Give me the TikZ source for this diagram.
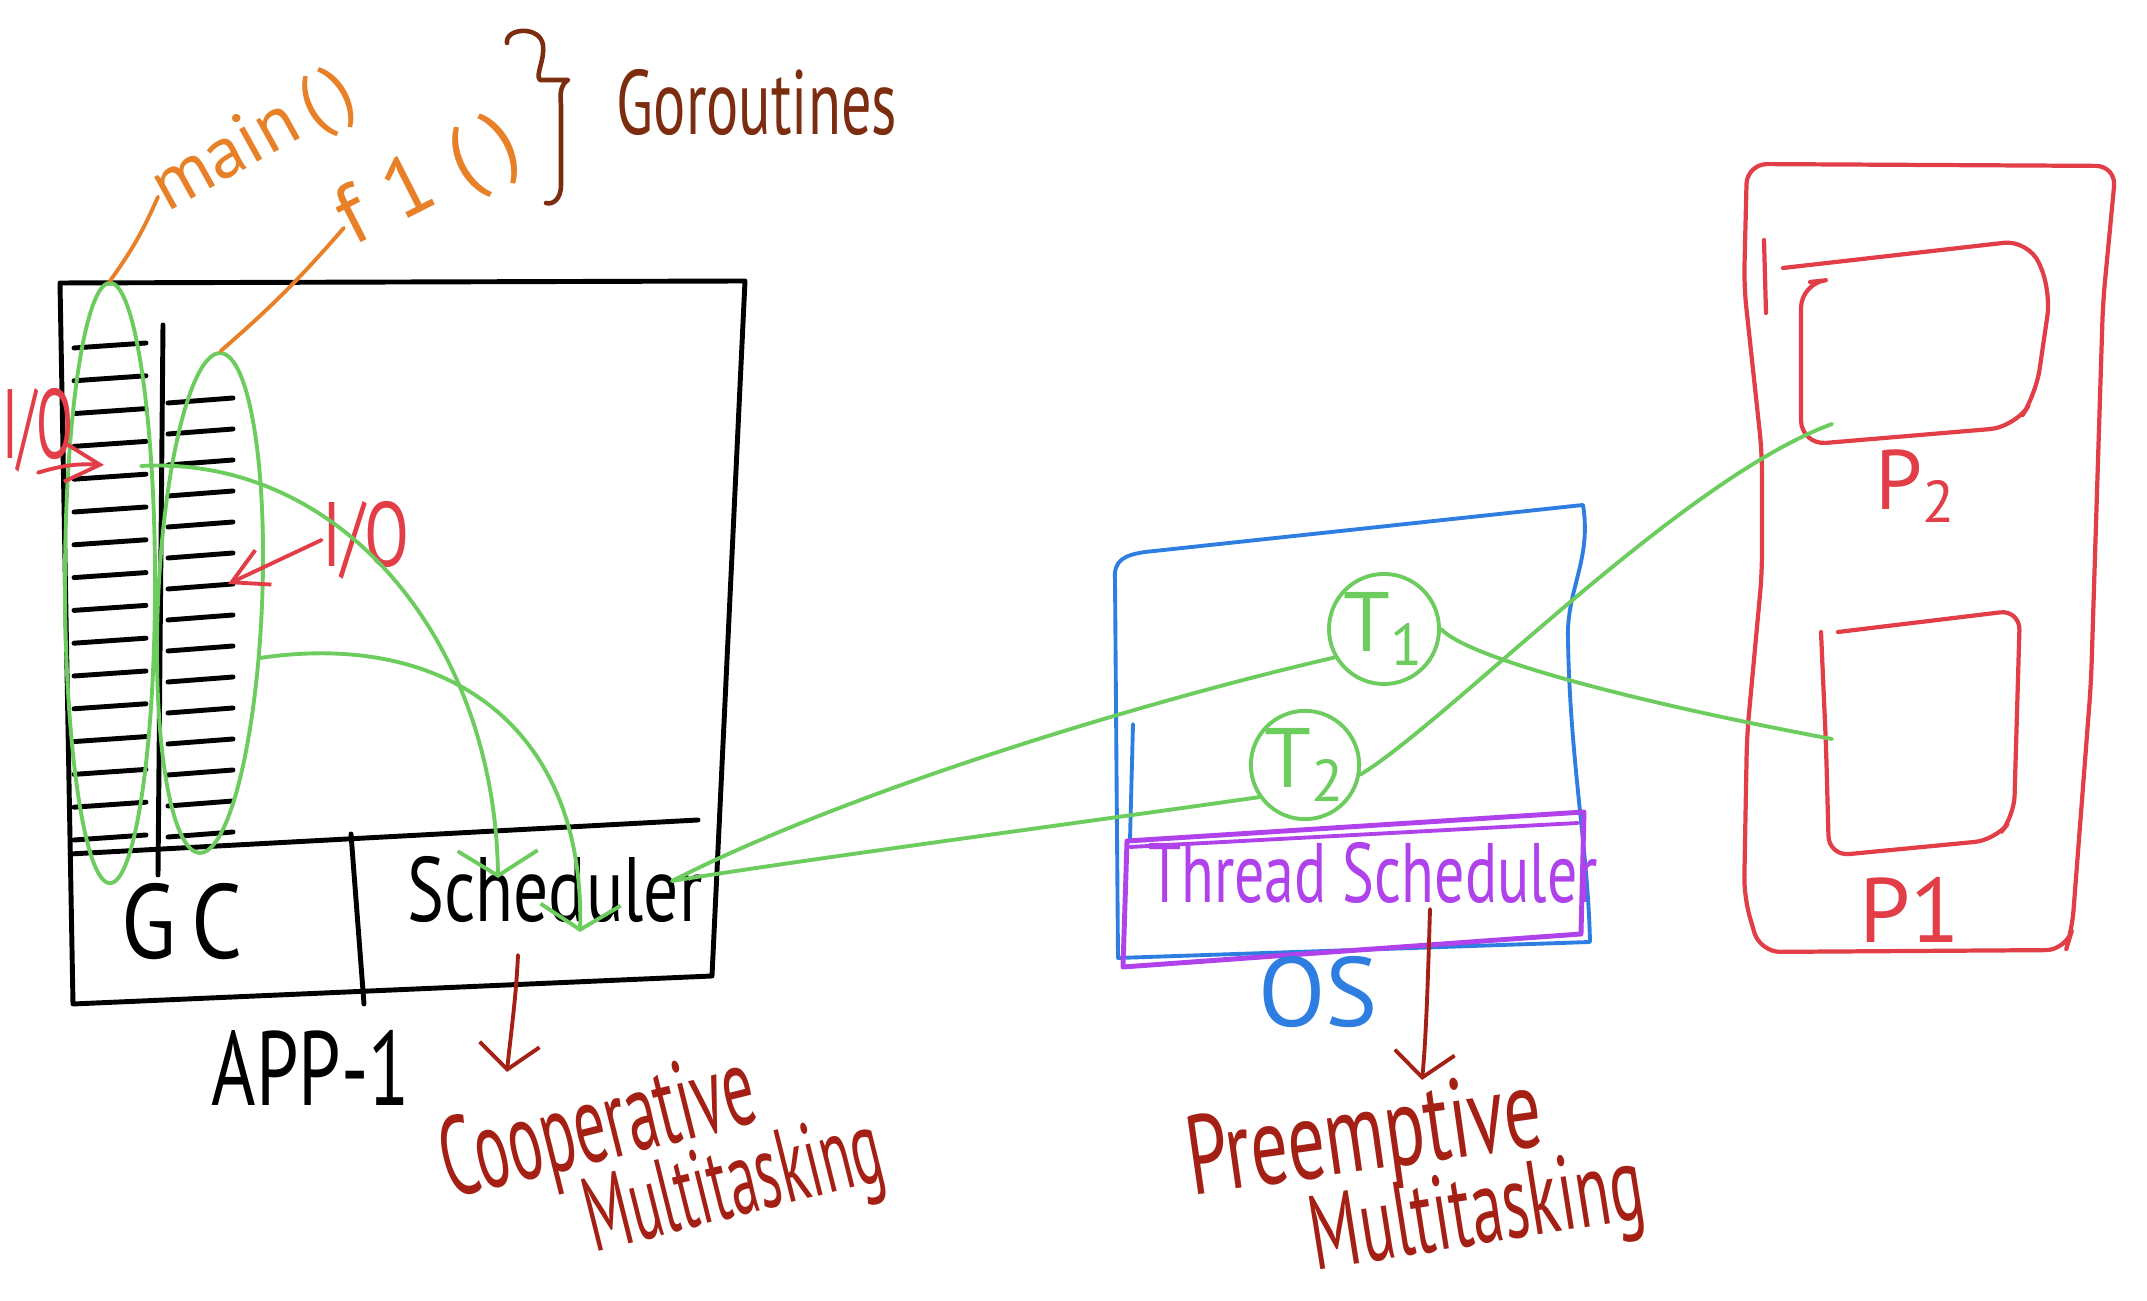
\documentclass[tikz,border=0pt]{standalone}
\usepackage{graphicx}
\usepackage{fontspec}
\setmainfont{PT Sans}
\usetikzlibrary{arrows.meta, shapes.geometric}
\definecolor{goGreen}{RGB}{108,204,94}
\definecolor{goOrange}{RGB}{232,128,40}
\definecolor{goBrown}{RGB}{125,45,15}
\definecolor{ioRed}{RGB}{226,62,72}
\definecolor{noteRed}{RGB}{165,32,20}
\definecolor{osBlue}{RGB}{46,126,226}
\definecolor{schedPurple}{RGB}{176,66,236}
\newcommand{\squeeze}[2]{\scalebox{#1}[1]{#2}}
\newcommand{\handsize}[1]{\fontsize{#1}{#1}\selectfont}

\begin{document}
\begin{tikzpicture}[x=0.01cm, y=-0.01cm,
    pen/.style={line width=1.4pt, line cap=round, line join=round},
    thin pen/.style={line width=1.1pt, line cap=round, line join=round},
    red pen/.style={thin pen, ioRed, line width=1.2pt},
    txt/.style={inner sep=0pt},
    green arrow/.style={thin pen, goGreen, -{Straight Barb[length=2.5mm, width=8mm]}},
    note arrow/.style={thin pen, noteRed, -{Straight Barb[length=2.5mm, width=6mm]}},
    io arrow/.style={thin pen, ioRed, -{Straight Barb[length=3.5mm, width=3.8mm]}},
    goroutine/.style={ellipse, draw=goGreen, thin pen, inner sep=0pt},
    thread/.style={circle, draw=goGreen, thin pen, inner sep=0pt, font=\handsize{24}, text=goGreen}]

  \fill[white] (0,0) rectangle (2147,1301);
  \useasboundingbox (0,0) rectangle (2147,1301);

  % App-1 process
  \draw[pen] (60,283) -- (745,281) -- (712,976) -- (73,1004) -- cycle;
  \draw[pen] (70,854) -- (698,820);
  \draw[pen] (351,834) -- (364,1004);
  \draw[pen] (163,325) -- (158,875);
  \foreach \i in {0,...,15}
    \draw[pen] (74,{348+32.8*\i}) -- (146,{343+32.8*\i});
  \foreach \i in {0,...,14}
    \draw[pen] (168,{403+31*\i}) -- (233,{398+31*\i});

  \node[goroutine, minimum width=0.9cm, minimum height=6cm] (gmain) at (110,583) {};
  \node[goroutine, minimum width=1.04cm, minimum height=5cm, rotate=-2.4] (gfone) at (210,603) {};

  \node[txt, goOrange, font=\handsize{21}, rotate=29] (mainlbl) at (255,143) {main\hspace{0.15em}(\hspace{0.15em})};
  \node[txt, goOrange, font=\handsize{24}, rotate=27] (fonelbl) at (430,184) {f\hspace{0.3em}1\hspace{0.3em}(\hspace{0.25em})};
  \draw[thin pen, goOrange] (mainlbl.west) to[bend left=6] (gmain.north);
  \draw[thin pen, goOrange] (fonelbl.west) to[bend left=4] (gfone.north);

  \draw[thin pen, goBrown, line width=1.3pt] (507,43) .. controls (505,28) and (540,25) .. (543,45)
    .. controls (545,60) and (535,75) .. (540,80) -- (568,80)
    .. controls (560,85) and (560,95) .. (561,105) -- (561,185)
    .. controls (561,200) and (552,205) .. (546,203);
  \node[txt, goBrown, font=\handsize{26}] (gorlbl) at (757,103) {\squeeze{0.66}{Goroutines}};

  \node[txt, ioRed, font=\handsize{28}] (ioleft) at (38,430) {\squeeze{0.55}{I/O}};
  \coordinate (ioleftin) at (104,465);
  \draw[io arrow] (ioleft.south) to[bend left=10] (ioleftin);
  \node[txt, ioRed, font=\handsize{26}] (iomid) at (366,540) {\squeeze{0.72}{I/O}};
  \coordinate (iomidin) at (228,584);
  \draw[io arrow] (iomid.west) -- (iomidin);

  \node[txt, font=\handsize{30}] (gc) at (182,922) {\squeeze{0.85}{G\,C}};
  \node[txt, font=\handsize{26}] (sched) at (555,890) {\squeeze{0.76}{Scheduler}};
  \node[txt, font=\handsize{30}] (app) at (311,1068) {\squeeze{0.72}{APP-1}};

  % goroutines yield to the scheduler
  \coordinate (stackout) at (141,466);
  \coordinate (schedin1) at (498,878);
  \coordinate (schedin2) at (580,932);
  \coordinate (schedout) at (672,881);
  \draw[green arrow] (stackout) .. controls (340,455) and (495,640) .. (schedin1);
  \draw[green arrow] (gfone.-45) .. controls (450,630) and (585,730) .. (schedin2);

  % OS
  \draw[thin pen, osBlue] (1115,580) .. controls (1113,560) and (1125,555) .. (1145,552) -- (1583,505)
    .. controls (1592,560) and (1566,590) .. (1568,640)
    .. controls (1570,760) and (1588,850) .. (1590,942) -- (1118,958) -- cycle;
  \draw[thin pen, osBlue] (1133,724) -- (1130,840);
  \draw[pen, schedPurple] (1127,841) -- (1584,812) -- (1581,934) -- (1123,967) -- cycle;
  \draw[thin pen, schedPurple] (1130,847) -- (1578,823);
  \node[txt, schedPurple, font=\handsize{24}] (tsched) at (1373,873) {\squeeze{0.71}{Thread Scheduler}};
  \node[txt, osBlue, font=\handsize{28}] (os) at (1318,992) {OS};

  \node[thread, minimum size=1.1cm] (tone) at (1384,629) {T\textsubscript{1}};
  \node[thread, minimum size=1.04cm] (ttwo) at (1305,765) {T\textsubscript{2}};
  \draw[thin pen, goGreen] (schedout) .. controls (850,790) and (1150,700) .. (tone.210);
  \draw[thin pen, goGreen] (schedout) .. controls (800,860) and (1100,820) .. (ttwo.215);

  % processors
  \draw[red pen, rounded corners=2mm] (1747,164) -- (2116,166) -- (2103,302) -- (2091,683) -- (2072,930)
    -- (2066,950) -- (1760,952) -- (1744,897) -- (1747,735) -- (1762,573) -- (1762,453) -- (1744,286) -- cycle;
  \draw[red pen] (1764,240) -- (1766,313);
  \draw[red pen, rounded corners=2.5mm] (1783,268) -- (2029,240) -- (2051,291) -- (2036,394) -- (2015,427)
    -- (1801,445) -- (1801,283) -- (1810,282);
  \draw[red pen, rounded corners=2mm] (1838,632) -- (2020,610) -- (2014,816) -- (1995,840) -- (1829,856)
    -- (1826,745) -- (1821,632);
  \node[txt, ioRed, font=\handsize{24}] (ptwo) at (1916,486) {P\textsubscript{2}};
  \node[txt, ioRed, font=\handsize{26}] (pone) at (1910,910) {P1};
  \coordinate (ponein) at (1832,739);
  \coordinate (ptwoin) at (1832,424);
  \draw[thin pen, goGreen] (tone.east) .. controls (1470,660) and (1650,705) .. (ponein);
  \draw[thin pen, goGreen] (ttwo.350) .. controls (1450,720) and (1680,480) .. (ptwoin);

  % notes
  \node[txt, noteRed, font=\handsize{32}, rotate=14] (coop) at (599,1132) {\squeeze{0.56}{Cooperative}};
  \node[txt, noteRed, font=\handsize{30}, rotate=14] (coopmt) at (735,1190) {\squeeze{0.54}{Multitasking}};
  \node[txt, noteRed, font=\handsize{32}, rotate=8] (preempt) at (1365,1142) {\squeeze{0.66}{Preemptive}};
  \node[txt, noteRed, font=\handsize{30}, rotate=9] (preemptmt) at (1478,1218) {\squeeze{0.6}{Multitasking}};
  \coordinate (coopfrom) at (518,955);
  \coordinate (coopto) at (507,1072);
  \coordinate (preemptfrom) at (1430,909);
  \coordinate (preemptto) at (1422,1080);
  \draw[note arrow] (coopfrom) .. controls (516,1000) and (510,1040) .. (coopto);
  \draw[note arrow] (preemptfrom) .. controls (1428,980) and (1426,1040) .. (preemptto);
\end{tikzpicture}
\end{document}
